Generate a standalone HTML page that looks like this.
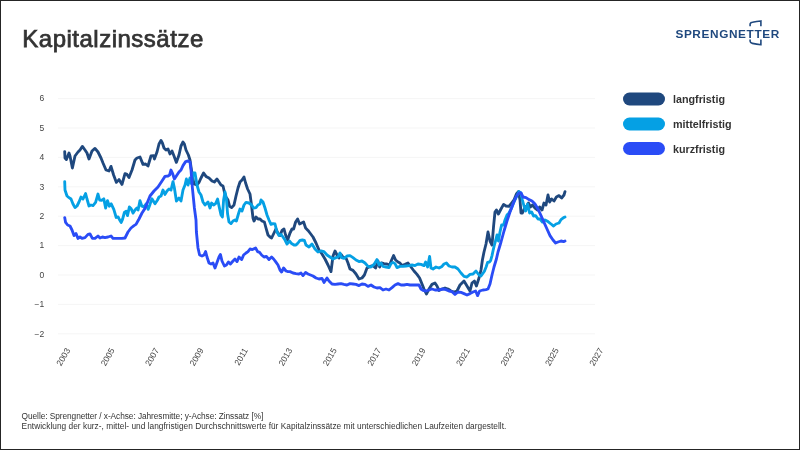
<!DOCTYPE html>
<html lang="de"><head><meta charset="utf-8"><title>Kapitalzinssätze</title>
<style>
html,body{margin:0;padding:0;background:#fff;}
body{width:800px;height:450px;overflow:hidden;position:relative;font-family:"Liberation Sans",sans-serif;color:#333;}
.wrap{position:absolute;left:0;top:0;width:800px;height:450px;will-change:transform;}
.frame{position:absolute;left:0;top:0;width:798px;height:448px;border:1px solid #252525;}
h1{position:absolute;left:22.3px;top:25px;margin:0;font-size:24px;line-height:28px;font-weight:normal;color:#333;letter-spacing:0.5px;white-space:nowrap;-webkit-text-stroke:0.75px #333;}
.foot{position:absolute;left:21.6px;top:411px;font-size:8.3px;line-height:10px;color:#333;white-space:nowrap;}
.foot span{display:block;}
.foot .a{letter-spacing:-0.055px;}
.foot .b{letter-spacing:0.032px;}
svg{position:absolute;left:0;top:0;}
.legend text{font-size:10.75px;font-weight:bold;fill:#333;}
.yl text,.xl text{font-size:8.5px;fill:#444;}
.grid line{stroke:#f5f5f5;stroke-width:1;}
.ln{fill:none;stroke-width:2.85;stroke-linejoin:round;stroke-linecap:round;}
</style></head><body>
<div class="wrap">
<div class="frame"></div>
<h1>Kapitalzinssätze</h1>
<svg width="800" height="450" viewBox="0 0 800 450" font-family="Liberation Sans, sans-serif">
<g class="grid"><line x1="58" x2="595" y1="333.8" y2="333.8"/><line x1="58" x2="595" y1="304.4" y2="304.4"/><line x1="58" x2="595" y1="275.0" y2="275.0"/><line x1="58" x2="595" y1="245.6" y2="245.6"/><line x1="58" x2="595" y1="216.2" y2="216.2"/><line x1="58" x2="595" y1="186.8" y2="186.8"/><line x1="58" x2="595" y1="157.4" y2="157.4"/><line x1="58" x2="595" y1="128.0" y2="128.0"/><line x1="58" x2="595" y1="98.6" y2="98.6"/></g>
<g class="yl"><text x="44.3" y="336.5" text-anchor="end">−2</text><text x="44.3" y="307.1" text-anchor="end">−1</text><text x="44.3" y="277.7" text-anchor="end">0</text><text x="44.3" y="248.3" text-anchor="end">1</text><text x="44.3" y="218.9" text-anchor="end">2</text><text x="44.3" y="189.5" text-anchor="end">3</text><text x="44.3" y="160.1" text-anchor="end">4</text><text x="44.3" y="130.7" text-anchor="end">5</text><text x="44.3" y="101.3" text-anchor="end">6</text></g>
<g class="xl"><text transform="translate(70.5,350.2) rotate(-60)" text-anchor="end">2003</text><text transform="translate(114.9,350.2) rotate(-60)" text-anchor="end">2005</text><text transform="translate(159.3,350.2) rotate(-60)" text-anchor="end">2007</text><text transform="translate(203.8,350.2) rotate(-60)" text-anchor="end">2009</text><text transform="translate(248.2,350.2) rotate(-60)" text-anchor="end">2011</text><text transform="translate(292.6,350.2) rotate(-60)" text-anchor="end">2013</text><text transform="translate(337.0,350.2) rotate(-60)" text-anchor="end">2015</text><text transform="translate(381.4,350.2) rotate(-60)" text-anchor="end">2017</text><text transform="translate(425.9,350.2) rotate(-60)" text-anchor="end">2019</text><text transform="translate(470.3,350.2) rotate(-60)" text-anchor="end">2021</text><text transform="translate(514.7,350.2) rotate(-60)" text-anchor="end">2023</text><text transform="translate(559.1,350.2) rotate(-60)" text-anchor="end">2025</text><text transform="translate(603.5,350.2) rotate(-60)" text-anchor="end">2027</text></g>
<polyline class="ln" stroke="#1f487e" points="64.7,151.6 65.0,158.0 66.4,159.6 69.0,153.0 70.0,156.0 72.4,168.0 75.0,156.0 78.0,152.0 80.0,150.0 82.4,146.4 85.0,150.0 87.0,153.0 89.0,159.0 92.0,151.0 95.0,148.4 98.0,152.0 101.0,158.0 103.0,163.0 106.0,170.0 109.0,171.0 111.0,166.4 113.6,175.0 116.4,182.4 119.0,179.6 122.0,184.4 125.0,173.6 127.0,174.4 129.0,177.6 132.0,170.0 135.0,160.0 137.0,158.0 140.0,157.0 143.0,164.4 145.6,164.0 148.0,166.0 151.0,156.0 153.6,155.6 154.4,159.0 157.0,152.0 159.0,144.0 161.0,140.4 162.4,143.0 164.0,148.0 166.0,150.0 168.0,149.0 170.0,154.0 172.0,151.0 174.0,156.0 176.4,162.4 179.0,155.0 181.0,146.0 183.0,142.0 184.4,144.0 186.0,150.0 188.4,155.0 190.0,160.0 191.0,167.0 192.4,176.0 194.0,184.0 197.0,185.0 199.0,182.4 201.0,178.0 203.6,173.0 206.0,176.4 209.0,178.0 212.0,181.0 214.4,182.0 217.0,179.0 219.0,182.0 221.0,185.0 223.0,186.0 224.4,192.0 226.0,197.0 228.0,200.0 229.6,206.4 231.6,207.6 234.0,205.0 236.0,196.0 238.0,188.0 240.0,182.0 242.0,180.0 244.0,177.0 245.6,183.0 247.6,189.0 250.0,194.0 251.6,206.0 253.0,218.0 254.0,221.0 256.0,217.0 258.0,219.0 260.0,219.0 262.0,221.0 264.4,222.0 266.0,228.0 268.0,235.0 270.0,237.0 271.6,238.0 274.0,233.0 276.0,229.0 278.4,234.0 280.0,235.6 282.0,230.4 284.0,229.0 285.6,235.0 287.6,240.0 290.0,233.0 292.0,229.0 293.6,229.0 295.6,222.0 297.6,219.0 299.6,224.0 301.6,223.0 303.6,222.0 305.6,228.0 308.0,230.4 310.0,233.0 313.0,237.0 316.0,243.0 319.0,250.0 322.0,254.0 325.0,259.0 328.0,265.0 331.0,271.6 333.0,256.0 335.0,251.0 337.0,255.0 339.0,258.0 341.0,254.4 343.0,257.0 346.0,258.0 348.0,263.0 350.0,269.0 353.0,270.4 356.0,274.0 359.0,279.0 362.0,278.0 364.4,275.0 367.0,268.0 370.0,266.4 373.0,265.6 375.6,268.0 378.0,261.0 379.6,267.0 381.6,263.0 384.0,263.6 387.0,264.0 389.6,265.0 391.6,260.0 393.6,255.6 395.6,260.0 398.0,262.0 400.0,263.0 402.0,265.6 405.0,264.4 408.0,263.0 411.0,267.0 414.0,271.0 417.0,274.4 419.6,278.0 422.0,284.0 424.0,289.0 426.4,294.0 429.0,289.0 432.0,284.4 435.0,283.0 437.0,286.0 439.0,290.4 442.0,289.0 445.0,288.0 448.0,289.0 451.0,291.0 454.0,292.0 457.0,291.0 460.0,285.0 464.0,281.0 467.0,286.0 470.0,291.0 472.0,283.0 474.4,281.0 476.4,286.0 479.0,278.0 481.0,270.0 482.4,260.0 484.0,252.0 486.0,244.0 488.0,232.0 490.0,241.0 492.0,245.0 493.6,226.0 495.0,212.0 496.4,210.0 498.4,214.0 501.0,209.0 503.6,204.4 506.0,206.0 509.0,206.4 511.6,203.0 514.0,200.0 516.4,194.0 518.4,191.6 520.0,200.0 521.0,213.0 522.4,213.0 525.0,207.0 527.0,206.0 528.4,203.0 530.4,207.0 532.4,205.0 535.0,208.0 537.6,210.0 539.6,207.0 542.0,210.0 544.0,203.0 546.0,205.0 548.0,195.0 549.6,202.0 551.6,199.0 554.0,201.0 556.4,197.0 559.0,195.6 561.6,198.0 564.0,195.0 565.0,191.6"/>
<polyline class="ln" stroke="#05a0e4" points="64.7,181.6 65.0,190.0 67.0,196.0 69.0,197.6 71.0,199.0 73.0,204.0 75.0,207.6 77.0,206.0 79.0,202.0 81.0,197.0 83.0,199.0 85.6,193.6 87.0,199.0 89.0,206.0 91.0,205.0 93.0,205.6 95.6,202.4 98.0,194.0 99.6,200.0 101.6,200.4 103.8,198.8 105.6,208.1 107.5,200.6 109.4,206.2 111.2,203.8 113.8,209.4 116.2,217.5 118.1,216.9 120.0,220.6 121.2,222.5 122.5,219.4 124.4,212.5 126.2,211.2 127.5,215.6 129.4,206.9 131.2,208.8 133.1,213.1 135.0,210.0 136.9,208.1 138.1,210.0 140.0,200.6 141.9,206.2 143.8,206.9 146.2,203.8 148.1,209.4 150.0,204.4 151.9,198.8 155.0,203.8 157.5,200.0 159.0,197.0 161.0,196.0 163.0,190.0 165.0,194.4 167.0,191.0 169.0,189.0 171.0,190.0 173.0,181.6 174.4,188.0 176.4,201.0 179.0,198.0 181.0,201.0 183.0,190.0 185.0,185.0 186.4,179.0 188.0,185.0 190.0,178.0 191.6,184.0 193.0,173.0 195.0,173.0 197.0,185.0 199.0,192.0 201.0,195.0 203.0,202.0 205.0,205.0 208.0,202.0 210.0,208.0 211.6,203.0 213.6,205.0 215.6,203.6 217.6,199.0 219.0,206.0 221.0,215.0 222.4,217.0 223.6,200.0 225.0,192.0 226.4,199.0 227.6,214.0 229.0,222.0 231.0,223.6 233.0,221.0 235.0,220.0 236.4,221.0 238.4,214.0 240.0,209.0 242.0,211.0 244.0,205.0 246.0,202.4 249.0,203.0 251.6,205.0 253.6,208.0 256.0,207.6 258.0,205.0 260.0,204.0 261.0,200.0 263.0,202.0 265.0,208.0 267.0,215.0 269.0,220.0 271.0,224.4 273.0,223.6 275.0,224.0 277.0,232.0 279.0,235.6 281.0,234.4 283.0,237.0 285.0,240.0 287.0,244.0 289.6,241.0 291.6,243.6 294.0,245.0 296.0,245.0 298.0,243.0 300.0,240.4 302.4,240.0 304.4,240.4 306.0,245.0 309.0,247.0 312.0,244.0 315.0,249.0 318.0,252.0 321.0,251.0 324.0,251.6 327.0,255.0 330.0,257.0 333.0,259.0 336.0,257.6 338.0,257.0 340.0,253.0 341.6,257.6 344.0,258.4 347.0,256.0 350.0,255.6 353.0,257.6 356.0,260.0 359.0,261.6 362.0,261.0 365.0,263.0 368.0,266.4 371.0,267.0 374.0,264.4 377.0,259.6 379.0,265.0 381.0,263.0 383.0,266.4 386.0,267.0 389.0,267.6 391.0,263.6 393.0,262.4 395.0,263.6 397.0,267.6 400.0,266.4 403.0,266.4 406.0,266.0 409.0,265.6 412.0,265.0 415.0,265.6 418.0,264.0 421.0,264.4 424.0,265.6 425.6,262.0 427.6,267.0 429.6,256.4 431.0,268.0 433.0,269.0 436.0,267.0 439.0,268.0 442.0,266.4 444.0,264.0 446.4,263.0 449.0,266.0 452.0,267.0 455.0,267.0 458.0,269.0 461.0,273.0 464.0,276.4 467.0,277.0 470.0,274.4 473.0,274.0 476.0,271.0 479.0,275.0 481.0,276.0 484.4,271.2 486.2,266.8 487.6,262.4 489.4,262.0 490.6,260.6 492.0,255.6 493.2,250.0 494.4,245.0 495.6,240.6 497.0,235.0 498.4,241.0 500.0,232.0 501.6,225.0 503.6,225.0 505.0,220.0 507.0,215.0 509.0,213.0 511.6,208.0 514.0,202.0 516.4,197.0 519.0,191.6 521.0,193.0 522.4,200.0 524.0,206.0 525.6,211.0 527.6,204.0 529.6,213.0 531.6,212.0 533.6,216.0 535.6,215.6 538.0,219.0 540.0,219.0 542.4,222.0 545.0,220.0 548.0,221.6 551.0,224.0 553.6,226.0 556.0,224.0 559.0,223.0 561.0,219.6 563.6,217.6 565.0,217.0"/>
<polyline class="ln" stroke="#2a4cf6" points="64.7,217.6 65.6,222.4 67.6,225.0 70.0,226.0 72.0,230.0 74.0,235.6 76.0,233.6 78.0,238.4 80.0,237.0 82.0,238.4 85.0,237.6 88.0,234.4 90.0,234.0 92.4,238.4 95.0,238.4 98.0,236.0 100.0,238.0 102.4,237.0 105.0,237.6 108.0,237.0 111.0,236.0 113.0,238.4 116.0,238.4 119.0,238.4 122.0,238.4 125.0,238.0 128.0,232.0 131.0,228.0 134.0,225.6 136.0,224.4 139.0,219.0 142.0,213.0 145.0,208.4 150.0,196.0 154.0,191.0 158.0,187.0 162.0,181.0 165.0,176.4 168.0,176.0 169.6,175.0 171.0,170.0 172.4,173.0 174.4,179.0 177.0,175.0 179.0,172.0 181.0,170.0 183.0,165.6 185.6,161.6 188.0,161.0 190.0,162.0 191.0,170.0 192.4,188.0 194.4,208.0 196.0,220.0 196.4,232.0 198.0,248.0 199.6,255.0 202.0,256.0 204.0,255.0 205.6,251.6 207.0,257.0 209.0,263.0 211.0,264.0 213.0,263.0 215.0,268.0 217.0,262.4 219.0,257.0 220.4,254.4 222.0,261.0 224.4,266.0 226.4,265.0 228.4,262.0 230.4,264.0 233.0,261.0 235.0,259.0 237.0,261.6 239.0,257.0 241.6,259.6 243.6,255.0 246.0,253.0 248.0,251.6 250.0,249.0 252.4,249.6 255.6,248.0 257.6,251.6 259.6,252.4 261.6,255.0 264.0,257.0 266.4,256.4 269.0,259.6 271.6,257.0 273.6,259.0 275.6,261.6 278.0,265.0 280.0,270.0 281.6,272.0 283.6,268.0 286.0,271.0 288.0,271.6 290.0,271.6 293.0,273.0 296.0,273.6 299.0,274.0 301.0,273.0 303.0,275.6 305.6,272.4 308.0,274.0 313.0,276.0 316.0,278.0 319.0,279.0 322.0,278.4 324.0,282.4 327.0,278.0 329.0,281.0 332.0,284.0 335.0,284.4 338.0,284.0 341.0,283.6 344.0,284.4 347.0,285.0 350.0,283.6 353.0,284.0 356.0,284.4 359.0,285.6 362.0,284.0 365.0,284.4 368.0,286.4 371.0,285.0 374.0,287.0 377.0,288.0 380.0,287.6 383.0,290.0 386.0,289.0 389.0,290.0 392.0,287.6 395.0,285.0 398.0,283.6 401.0,285.0 404.0,285.0 407.0,284.4 410.0,285.0 413.0,285.0 416.0,285.0 419.0,285.0 421.0,289.0 423.0,290.4 426.0,291.0 429.0,290.0 432.0,289.0 435.0,290.0 438.0,290.0 443.0,289.0 446.0,289.6 449.0,291.0 452.0,291.6 455.0,294.4 458.0,292.0 461.0,292.4 464.0,293.6 467.0,295.0 470.0,293.6 473.0,292.0 475.6,291.0 477.6,295.6 479.6,291.0 483.0,290.0 486.0,289.6 488.0,289.0 490.0,284.0 492.0,275.0 494.0,267.0 496.4,259.0 498.0,252.0 501.0,242.0 504.0,231.0 507.0,221.0 510.0,212.0 513.0,204.0 516.0,197.0 519.0,193.0 521.0,193.0 523.0,197.0 526.0,197.6 529.0,199.6 532.0,201.0 535.0,204.0 538.0,209.0 541.0,215.6 544.0,222.4 547.0,229.0 550.0,235.6 553.0,240.0 555.6,243.0 558.0,242.0 561.0,241.0 563.6,241.6 565.0,241.0"/>
<g class="legend">
<rect x="623" y="92.5" width="42" height="13" rx="6.5" fill="#1f487e"/><text x="673" y="103">langfristig</text>
<rect x="623" y="117.5" width="42" height="13" rx="6.5" fill="#05a0e4"/><text x="673" y="128">mittelfristig</text>
<rect x="623" y="142" width="42" height="13" rx="6.5" fill="#2a4cf6"/><text x="673" y="152.5">kurzfristig</text>
</g>
<g class="logo" fill="#1f487e">
<text x="675.4" y="37.6" font-size="11.8" font-weight="bold" letter-spacing="0.62">SPRENGNETTER</text>
<path d="M750.1 26.3 V24.3 Q750.1 22.7 752.4 22.3 Q756.5 21.4 760.9 21 V26.3 M750.1 39.4 V41.3 Q750.1 42.9 752.4 43.4 Q756.5 44.3 760.9 44.7 V39.4" fill="none" stroke="#1f487e" stroke-width="1.6"/>
</g>
</svg>
<div class="foot"><span class="a">Quelle: Sprengnetter / x-Achse: Jahresmitte; y-Achse: Zinssatz [%]</span><span class="b">Entwicklung der kurz-, mittel- und langfristigen Durchschnittswerte für Kapitalzinssätze mit unterschiedlichen Laufzeiten dargestellt.</span></div>
</div>
</body></html>
